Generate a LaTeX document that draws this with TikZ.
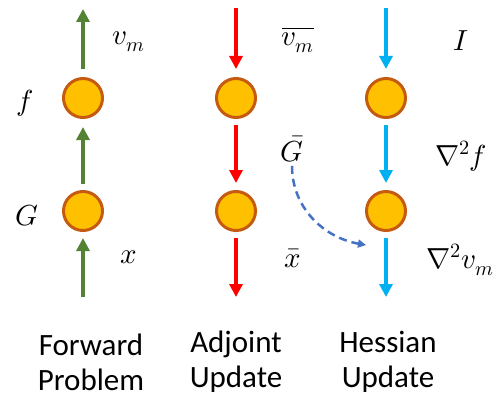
\documentclass[tikz,border=0pt]{standalone}
\usepackage{fontspec}
\usepackage{unicode-math}
\setmainfont{Carlito}
\setmathfont{Latin Modern Math}
\usepackage{tikz}
\usetikzlibrary{arrows.meta, positioning}
\definecolor{nodofondo}{HTML}{FFC000}
\definecolor{nodoborde}{HTML}{C55A11}
\definecolor{verde}{HTML}{548235}
\definecolor{rojo}{HTML}{FF0000}
\definecolor{celeste}{HTML}{00B0F0}
\definecolor{azul}{HTML}{4472C4}
\tikzstyle{nodo} = [circle, minimum size=39pt, inner sep=0pt,
fill=nodofondo, draw=nodoborde, line width=3pt]
\tikzstyle{flecha} = [line width=4pt, -{Triangle[length=13pt,width=13pt]}]
\tikzstyle{etiq} = [font=\fontsize{29}{33}\selectfont]
\tikzstyle{titulo} = [font=\fontsize{31}{35}\selectfont, align=center]

\begin{document}
\begin{tikzpicture}[x=1pt, y=1pt]
        \useasboundingbox (0,0) rectangle (498,400);

        % Nodos
        \node[nodo] (fF) at (83,302) {};
        \node[nodo] (fG) at (83,189) {};
        \node[nodo] (aF) at (236,302) {};
        \node[nodo] (aG) at (236,189) {};
        \node[nodo] (hF) at (386,302) {};
        \node[nodo] (hG) at (386,189) {};

        % Extremos libres
        \coordinate (fin) at (83,103);
        \coordinate (fout) at (83,391);
        \coordinate (ain) at (236,392);
        \coordinate (aout) at (236,103);
        \coordinate (hin) at (386,392);
        \coordinate (hout) at (386,103);
        \coordinate (hfin) at (366,155);

        % Problema directo
        \draw[flecha, verde, shorten >=6pt] (fin) -- (fG);
        \draw[flecha, verde, shorten <=6pt, shorten >=8pt] (fG) -- (fF);
        \draw[flecha, verde, shorten <=8pt] (fF) -- (fout);

        % Adjunto
        \draw[flecha, rojo, shorten >=8pt] (ain) -- (aF);
        \draw[flecha, rojo, shorten <=6pt, shorten >=7pt] (aF) -- (aG);
        \draw[flecha, rojo, shorten <=6pt] (aG) -- (aout);

        % Hessiano
        \draw[flecha, celeste, shorten >=8pt] (hin) -- (hF);
        \draw[flecha, celeste, shorten <=6pt, shorten >=7pt] (hF) -- (hG);
        \draw[flecha, celeste, shorten <=6pt] (hG) -- (hout);

        % Etiquetas
        \node[etiq] (vm) at (129,358) {$v_m$};
        \node[etiq] (lf) at (25,297) {$f$};
        \node[etiq] (lG) at (27,184) {$G$};
        \node[etiq] (lx) at (129,143) {$x$};
        \node[etiq] (vmb) at (298,360) {$\overline{v_m}$};
        \node[etiq] (Gb) at (292,251) {$\bar{G}$};
        \node[etiq] (xb) at (293,142) {$\bar{x}$};
        \node[etiq] (lI) at (461,359) {$I$};
        \node[etiq] (d2f) at (461,244) {$\nabla^2 f$};
        \node[etiq] (d2v) at (460,140) {$\nabla^2 v_m$};

        % Flecha discontinua
        \draw[azul, line width=2.5pt, dash pattern=on 8pt off 5pt,
            -{Triangle[length=8pt,width=8pt]}]
            (Gb.south) to[out=-90, in=170] (hfin);

        % Titulos
        \node[titulo] (tF) at (91,38) {Forward\\Problem};
        \node[titulo] (tA) at (236,38) {Adjoint\\Update};
        \node[titulo] (tH) at (388,38) {Hessian\\Update};
    \end{tikzpicture}
\end{document}
